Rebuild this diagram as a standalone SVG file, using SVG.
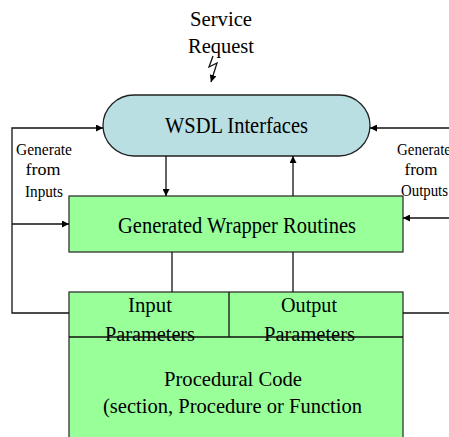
<svg xmlns="http://www.w3.org/2000/svg" width="449" height="437" viewBox="0 0 449 437">
  <style>
    text { font-family: "Liberation Serif", "Times New Roman", serif; fill: #000; text-anchor: middle; }
    .big { font-size: 23px; }
    .mid { font-size: 22px; }
    .sm { font-size: 16px; }
    .box { fill: #99FF99; stroke: #333; stroke-width: 1.3; }
    .cap { fill: #B9DFE3; stroke: #222; stroke-width: 1.3; }
    .ln { fill: none; stroke: #111; stroke-width: 1.3; }
    .arr { fill: none; stroke: #111; stroke-width: 1.3; marker-end: url(#ah); }
  </style>
  <defs>
    <marker id="ah" viewBox="0 0 10 10" refX="10" refY="5" markerWidth="7" markerHeight="7" markerUnits="userSpaceOnUse" orient="auto">
      <path d="M0,0 L10,5 L0,10 Z" fill="#000"/>
    </marker>
  </defs>
  <rect width="449" height="437" fill="#fff"/>

  <g id="service-request">
    <text class="mid" x="221" y="26" textLength="62" lengthAdjust="spacingAndGlyphs">Service</text>
    <text class="mid" x="221" y="53" textLength="66" lengthAdjust="spacingAndGlyphs">Request</text>
  </g>

  <g id="wsdl-interfaces">
    <rect class="cap" x="103" y="95" width="267" height="61" rx="31" ry="30.5"/>
    <text class="big" x="236.5" y="133" textLength="143" lengthAdjust="spacingAndGlyphs">WSDL Interfaces</text>
  </g>

  <g id="wrapper-routines">
    <rect class="box" x="69" y="196" width="334" height="56"/>
    <text class="big" x="237" y="233" textLength="238" lengthAdjust="spacingAndGlyphs">Generated Wrapper Routines</text>
  </g>

  <g id="procedural-code">
    <rect class="box" x="69" y="292" width="334" height="150"/>
    <text class="mid" x="233" y="386" textLength="138" lengthAdjust="spacingAndGlyphs">Procedural Code</text>
    <text class="mid" x="232.5" y="413" textLength="259" lengthAdjust="spacingAndGlyphs">(section, Procedure or Function</text>
  </g>

  <g id="input-parameters">
    <text class="mid" x="150" y="312" textLength="44" lengthAdjust="spacingAndGlyphs">Input</text>
    <text class="mid" x="150" y="341" textLength="90" lengthAdjust="spacingAndGlyphs">Parameters</text>
  </g>

  <g id="output-parameters">
    <text class="mid" x="309" y="312" textLength="56" lengthAdjust="spacingAndGlyphs">Output</text>
    <text class="mid" x="309.5" y="341" textLength="91" lengthAdjust="spacingAndGlyphs">Parameters</text>
  </g>

  <g id="parameter-dividers">
    <line class="ln" x1="69" y1="337" x2="403" y2="337"/>
    <line class="ln" x1="229" y1="292" x2="229" y2="337"/>
  </g>

  <g id="labels">
    <text class="sm" x="44" y="155" textLength="56" lengthAdjust="spacingAndGlyphs">Generate</text>
    <text class="sm" x="43" y="175" textLength="35" lengthAdjust="spacingAndGlyphs">from</text>
    <text class="sm" x="44" y="197" textLength="38" lengthAdjust="spacingAndGlyphs">Inputs</text>
    <text class="sm" x="424" y="155" textLength="54" lengthAdjust="spacingAndGlyphs">Generate</text>
    <text class="sm" x="421" y="175" textLength="33" lengthAdjust="spacingAndGlyphs">from</text>
    <text class="sm" x="424.5" y="196" textLength="47" lengthAdjust="spacingAndGlyphs">Outputs</text>
  </g>

  <g id="connectors">
    <!-- incoming request bolt -->
    <polyline class="arr" points="213,56 209,67 217,63 211,82"/>
    <!-- between interfaces and wrapper -->
    <line class="arr" x1="166" y1="156" x2="166" y2="196"/>
    <line class="arr" x1="293" y1="196" x2="293" y2="156"/>
    <!-- wrapper to parameters -->
    <line class="ln" x1="172" y1="252" x2="172" y2="292"/>
    <line class="ln" x1="293" y1="252" x2="293" y2="292"/>
    <!-- generate from inputs loop -->
    <path class="arr" d="M69,313 H12 V128 H103"/>
    <line class="arr" x1="12" y1="224" x2="69" y2="224"/>
    <!-- generate from outputs loop -->
    <line class="ln" x1="403" y1="313" x2="449" y2="313"/>
    <line class="arr" x1="449" y1="128" x2="370" y2="128"/>
    <line class="arr" x1="449" y1="218" x2="403" y2="218"/>
  </g>
</svg>
